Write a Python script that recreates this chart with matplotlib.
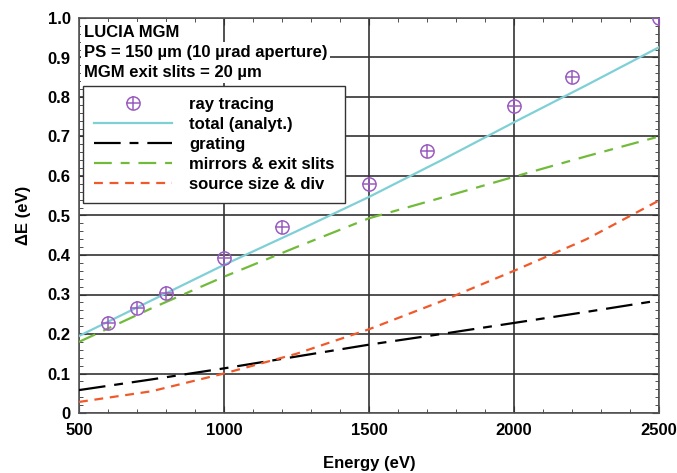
import numpy as np
import matplotlib
matplotlib.use("Agg")
import matplotlib.pyplot as plt
from matplotlib.ticker import MultipleLocator
from matplotlib.legend_handler import HandlerTuple

plt.rcParams['font.family'] = ['Liberation Sans', 'DejaVu Sans']
plt.rcParams['font.weight'] = 'bold'

# ray tracing results
e_ray = [600, 700, 800, 1000, 1200, 1500, 1700, 2000, 2200, 2500]
de_ray = [0.228, 0.265, 0.305, 0.392, 0.472, 0.580, 0.664, 0.778, 0.850, 1.000]

# analytical contributions
e_an = [500, 750, 1000, 1250, 1500, 1750, 2000, 2250, 2500]
de_total = [0.195, 0.285, 0.375, 0.460, 0.547, 0.640, 0.736, 0.830, 0.926]
de_grating = [0.058, 0.085, 0.113, 0.143, 0.173, 0.200, 0.228, 0.256, 0.285]
de_mirrors = [0.180, 0.265, 0.345, 0.420, 0.493, 0.545, 0.598, 0.650, 0.700]
de_source = [0.028, 0.055, 0.100, 0.150, 0.212, 0.283, 0.360, 0.440, 0.538]

yticks = np.arange(0, 1.01, 0.1)
ytick_labels = ['0', '0.1', '0.2', '0.3', '0.4', '0.5', '0.6', '0.7', '0.8', '0.9', '1.0']

purple = '#9a5cc0'
cyan = '#7fd0d6'
green = '#72bb3a'
red = '#f05a2a'
fs = 12

fig = plt.figure(figsize=(6.77, 4.73), dpi=100)
ax = fig.add_axes([79/677, 1-413/473, 580/677, 395/473])

l_to, = ax.plot(e_an, de_total, color=cyan, lw=1.6, zorder=3)
l_gr, = ax.plot(e_an, de_grating, color='black', lw=1.6, dashes=(12, 4, 4, 4), zorder=3)
l_mi, = ax.plot(e_an, de_mirrors, color=green, lw=1.6, dashes=(8, 4, 4, 4), zorder=3)
l_so, = ax.plot(e_an, de_source, color=red, lw=1.6, dashes=(4, 3), zorder=3)
m1, = ax.plot(e_ray, de_ray, 'o', ms=9.5, mfc='none', mec=purple, mew=1.1, zorder=4)
m2, = ax.plot(e_ray, de_ray, '+', ms=9.5, mec=purple, mew=1.1, zorder=4)

ax.set_xlim(500, 2500)
ax.set_ylim(0, 1.0)
ax.xaxis.set_major_locator(MultipleLocator(500))
ax.xaxis.set_minor_locator(MultipleLocator(100))
ax.yaxis.set_minor_locator(MultipleLocator(0.02))
ax.set_yticks(yticks)
ax.set_yticklabels(ytick_labels)
ax.tick_params(which='both', direction='in', top=True, right=True,
               colors='#333333', labelcolor='black', labelsize=fs)
ax.tick_params(axis='x', which='major', length=5, pad=7)
ax.tick_params(axis='y', which='major', length=5, pad=6)
ax.tick_params(which='minor', length=3)
for lab in ax.get_xticklabels() + ax.get_yticklabels():
    lab.set_fontweight('bold')
ax.grid(True, which='major', color='#333333', lw=1.2)
ax.set_axisbelow(True)
for s in ax.spines.values():
    s.set_color('#555555')
    s.set_linewidth(1.2)

ax.set_xlabel('Energy (eV)', fontsize=fs, fontweight='bold', labelpad=13)
ax.set_ylabel('ΔE (eV)', fontsize=fs, fontweight='bold', labelpad=12)

hdr = ['LUCIA MGM', 'PS = 150 µm (10 µrad aperture)', 'MGM exit slits = 20 µm']
for i, line in enumerate(hdr):
    ax.text(0.008, 0.963 - i*0.051, line, transform=ax.transAxes, fontsize=fs,
            fontweight='bold', va='center', ha='left', zorder=5,
            bbox=dict(facecolor='white', edgecolor='none', pad=2))

handles = [(m1, m2), l_to, l_gr, l_mi, l_so]
labels = ['ray tracing', 'total (analyt.)', 'grating', 'mirrors & exit slits',
          'source size & div']
leg = ax.legend(handles, labels, handler_map={tuple: HandlerTuple(ndivide=1)},
                loc='upper left', bbox_to_anchor=(0.007, 0.828), fancybox=False,
                framealpha=1, edgecolor='#333333', fontsize=fs, handlelength=4.7,
                handletextpad=1.0, labelspacing=0.3, borderpad=0.65,
                borderaxespad=0)
leg.get_frame().set_linewidth(1.0)
leg.set_zorder(6)

fig.savefig('out.png', dpi=100)
